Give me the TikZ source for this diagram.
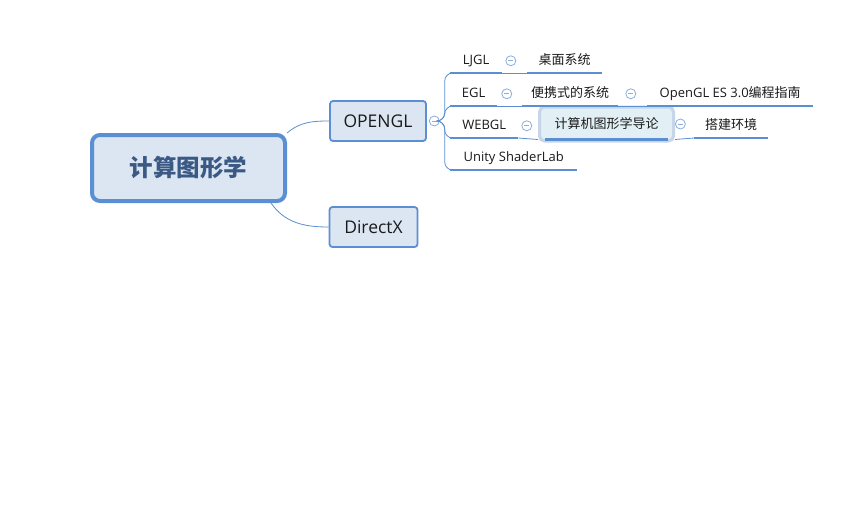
\documentclass[tikz,border=0pt]{standalone}
\usepackage{fontspec}
\setmainfont{Open Sans}
\newfontfamily\cjk{Noto Sans CJK SC}
\usetikzlibrary{positioning}

\definecolor{lineblue}{HTML}{5B8FD4}
\definecolor{boxfill}{HTML}{DCE6F2}
\definecolor{foldblue}{HTML}{8CAEDC}
\definecolor{rootink}{HTML}{3A5A85}
\definecolor{selframe}{HTML}{C6D6E8}
\definecolor{selfill}{HTML}{E2EFF5}
\definecolor{ink}{HTML}{1A1A1A}

\newcommand{\leaffont}{\fontsize{13}{15}\selectfont}

\tikzset{
	topic/.style={draw=lineblue, line width=1.8pt, fill=boxfill, rounded corners=3pt, inner sep=0pt, minimum height=40pt, text=ink, font=\fontsize{17.5}{20}\selectfont},
	leaf/.style={inner sep=0pt, minimum height=24pt, text height=10pt, text depth=3pt, anchor=south west, text=ink, font=\leaffont},
	fold/.style={circle, draw=foldblue, fill=white, line width=0.8pt, inner sep=0pt, minimum size=10pt,
		path picture={\draw[foldblue, line width=0.8pt] ([xshift=-2.6pt]path picture bounding box.center) -- ([xshift=2.6pt]path picture bounding box.center);}},
	link/.style={draw=lineblue, line width=0.8pt},
	under/.style={draw=lineblue, line width=2.6pt}
}

\begin{document}
\begin{tikzpicture}[x=1pt, y=-1pt]
	\useasboundingbox[fill=white] (0,0) rectangle (859,512);

	\node[draw=lineblue, line width=4pt, fill=boxfill, rounded corners=8pt, minimum width=193pt, minimum height=66pt, inner sep=0pt, text=rootink, font=\cjk\bfseries\fontsize{23.5}{26}\selectfont] (root) at (188.5,168) {计算图形学};
	\node[topic, minimum width=96pt] (opengl) at (378,121) {OPENGL};
	\node[topic, minimum width=88pt] (directx) at (373.5,227) {DirectX};

	\draw[link] (root.north east) to[out=40, in=180] (opengl.west);
	\draw[link] (root.-23) to[out=-55, in=180] (directx.west);

	\node[fold, right=2pt of opengl] (opengl-c) {};

	\node[leaf, minimum width=52pt] (ljgl) at (450,73) {LJGL};
	\node[leaf, minimum width=75pt] (desk) at (527,73) {\cjk 桌面系统};
	\node[leaf, minimum width=47pt] (egl) at (450,106) {EGL};
	\node[leaf, minimum width=96pt] (portable) at (522,106) {\cjk 便携式的系统};
	\node[leaf, minimum width=166pt] (esguide) at (647,106) {OpenGL ES 3.0{\cjk 编程指南}};
	\node[leaf, minimum width=68pt] (webgl) at (450,138) {WEBGL};
	\node[draw=selframe, line width=3pt, fill=selfill, rounded corners=5pt, minimum width=134pt, minimum height=34pt, inner sep=0pt, text=ink, font=\leaffont] (book) at (606.5,124) {\cjk 计算机图形学导论};
	\node[leaf, minimum width=74pt] (build) at (694,138) {\cjk 搭建环境};
	\node[leaf, minimum width=127pt] (unity) at (450,170) {Unity ShaderLab};

	\draw[link, rounded corners=8pt] (opengl-c.east) -- ++(5,0) |- (ljgl.south west);
	\draw[link, rounded corners=8pt] (opengl-c.east) -- ++(5,0) |- (egl.south west);
	\draw[link, rounded corners=8pt] (opengl-c.east) -- ++(5,0) |- (webgl.south west);
	\draw[link, rounded corners=8pt] (opengl-c.east) -- ++(5,0) |- (unity.south west);

	\foreach \n in {ljgl,desk,egl,portable,esguide,webgl,build,unity}
		\draw[under] (\n.south west) -- (\n.south east);
	\draw[under] ([xshift=7pt, yshift=3pt]book.south west) -- ([xshift=-7pt, yshift=3pt]book.south east);

	\draw[link] (ljgl.south east) -- (desk.south west);
	\draw[link] (egl.south east) -- (portable.south west);
	\draw[link] (portable.south east) -- (esguide.south west);
	\draw[link] (webgl.south east) -- ([yshift=3pt]book.south west);
	\draw[link] ([yshift=3pt]book.south east) -- (build.south west);

	\node[fold, right=3pt of ljgl] (ljgl-c) {};
	\node[fold, right=4pt of egl] (egl-c) {};
	\node[fold, right=7pt of portable] (portable-c) {};
	\node[fold, right=3pt of webgl] (webgl-c) {};
	\node[fold, right=0pt of book] (book-c) {};
\end{tikzpicture}
\end{document}
